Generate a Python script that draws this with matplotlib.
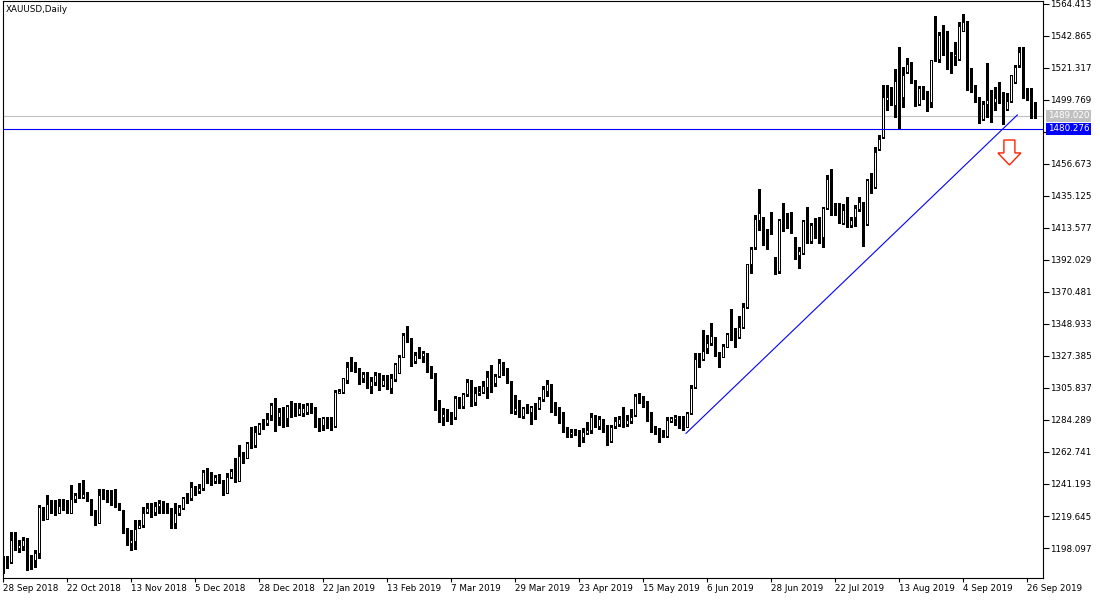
import matplotlib
matplotlib.use('Agg')
import matplotlib.pyplot as plt
from matplotlib.patches import FancyArrow
import matplotlib.transforms as mtransforms

# XAUUSD daily bars, 28 Sep 2018 .. 30 Sep 2019
opens = [
    1191.5, 1192.3, 1188.9, 1203.9, 1197.8, 1199.4, 1204.6, 1190.4, 1190.0, 1194.9,
    1224.1, 1217.4, 1227.7, 1225.5, 1221.9, 1227.5, 1227.0, 1221.9, 1230.8, 1234.9,
    1232.6, 1234.4, 1230.4, 1223.7, 1215.1, 1234.9, 1234.4, 1231.5, 1228.1, 1227.7,
    1223.7, 1211.3, 1201.7, 1203.0, 1211.3, 1213.6, 1222.5, 1224.1, 1222.5, 1226.4,
    1227.7, 1223.7, 1223.2, 1214.7, 1221.4, 1225.3, 1231.5, 1231.5, 1239.8, 1236.7,
    1238.3, 1250.6, 1245.0, 1243.4, 1246.6, 1242.8, 1235.3, 1246.1, 1249.5, 1243.4,
    1260.7, 1258.5, 1272.6, 1267.5, 1275.3, 1280.9, 1282.5, 1287.7, 1294.4, 1286.1,
    1290.6, 1285.4, 1293.7, 1288.3, 1288.3, 1289.2, 1289.9, 1294.4, 1292.8, 1283.8,
    1280.9, 1284.7, 1283.8, 1280.2, 1302.7, 1303.4, 1311.2, 1322.5, 1321.3, 1319.0,
    1312.3, 1316.1, 1307.2, 1310.1, 1314.6, 1307.8, 1311.6, 1305.6, 1311.6, 1316.1,
    1326.5, 1340.8, 1339.3, 1324.2, 1329.6, 1327.4, 1329.6, 1320.6, 1314.6, 1295.0,
    1286.5, 1287.6, 1286.9, 1286.0, 1298.2, 1293.7, 1301.8, 1310.1, 1296.6, 1302.7,
    1303.3, 1306.2, 1313.4, 1309.4, 1313.9, 1322.9, 1316.1, 1310.8, 1290.4, 1292.1,
    1286.9, 1292.8, 1289.9, 1293.3, 1292.1, 1298.2, 1304.0, 1308.5, 1293.7, 1292.1,
    1289.2, 1277.6, 1274.9, 1275.8, 1276.4, 1272.6, 1275.8, 1277.6, 1286.1, 1280.3,
    1283.8, 1277.6, 1270.4, 1280.3, 1281.6, 1284.7, 1281.6, 1283.8, 1287.7, 1301.1,
    1298.2, 1297.3, 1287.0, 1279.4, 1278.0, 1274.9, 1273.5, 1283.8, 1284.7, 1286.1,
    1280.9, 1279.8, 1289.2, 1306.7, 1325.8, 1325.1, 1332.6, 1336.4, 1335.9, 1329.2,
    1326.9, 1333.7, 1343.1, 1342.2, 1340.4, 1346.7, 1360.2, 1389.4, 1400.6, 1419.0,
    1421.2, 1409.6, 1411.1, 1392.1, 1384.9, 1422.3, 1421.2, 1417.2, 1399.9, 1395.4,
    1396.5, 1420.1, 1405.1, 1417.2, 1419.4, 1407.3, 1426.8, 1448.6, 1426.8, 1425.7,
    1417.2, 1425.7, 1415.6, 1421.2, 1426.2, 1431.3, 1416.3, 1446.4, 1441.0, 1466.6,
    1474.5, 1499.5, 1505.4, 1496.4, 1511.5, 1501.6, 1518.9, 1522.7, 1509.9, 1497.1,
    1507.6, 1502.5, 1498.7, 1546.9, 1527.2, 1542.5, 1539.7, 1528.5, 1529.4, 1527.2,
    1546.5, 1552.5, 1519.5, 1505.4, 1499.8, 1486.7, 1497.1, 1499.8, 1498.6, 1500.9,
    1501.5, 1493.5, 1499.3, 1512.1, 1523.3, 1534.5, 1504.2, 1504.2, 1497.1,
]
highs = [
    1192.5, 1193.0, 1209.0, 1209.0, 1203.5, 1205.7, 1205.0, 1193.4, 1196.7, 1227.0,
    1225.9, 1233.8, 1230.4, 1230.4, 1230.8, 1230.8, 1230.4, 1240.5, 1234.9, 1241.6,
    1243.9, 1236.0, 1230.8, 1223.7, 1237.6, 1237.6, 1237.1, 1237.1, 1237.6, 1228.1,
    1223.7, 1211.3, 1210.2, 1216.9, 1216.9, 1225.9, 1228.6, 1228.1, 1229.3, 1230.4,
    1229.9, 1228.1, 1224.8, 1228.1, 1227.0, 1232.6, 1235.3, 1242.8, 1239.8, 1241.2,
    1250.6, 1251.7, 1249.5, 1247.2, 1247.9, 1243.9, 1248.8, 1251.1, 1258.5, 1267.5,
    1263.0, 1269.7, 1279.3, 1280.2, 1282.5, 1284.7, 1288.8, 1295.5, 1298.9, 1292.1,
    1292.8, 1294.4, 1297.3, 1296.0, 1296.0, 1295.1, 1296.0, 1296.0, 1292.8, 1285.4,
    1286.5, 1286.1, 1286.1, 1304.5, 1304.9, 1312.3, 1323.6, 1326.5, 1323.6, 1319.0,
    1316.8, 1316.8, 1313.0, 1316.8, 1315.7, 1314.6, 1314.6, 1315.2, 1322.9, 1328.0,
    1342.6, 1347.6, 1339.3, 1330.3, 1333.2, 1330.9, 1329.6, 1320.6, 1315.7, 1297.7,
    1292.1, 1291.4, 1289.9, 1300.4, 1300.0, 1302.7, 1311.6, 1311.2, 1306.7, 1307.2,
    1310.8, 1317.5, 1321.3, 1315.2, 1325.1, 1323.5, 1319.0, 1310.8, 1301.1, 1297.7,
    1293.2, 1295.0, 1293.7, 1296.0, 1299.6, 1307.2, 1311.2, 1308.5, 1296.6, 1293.3,
    1289.9, 1279.8, 1278.0, 1278.0, 1277.6, 1278.7, 1283.2, 1289.2, 1287.7, 1287.0,
    1284.7, 1280.9, 1280.9, 1286.1, 1287.0, 1292.8, 1287.7, 1291.5, 1301.8, 1302.7,
    1300.5, 1297.3, 1289.9, 1280.3, 1278.7, 1277.6, 1286.1, 1286.1, 1287.7, 1287.0,
    1287.0, 1289.9, 1307.9, 1329.2, 1329.2, 1344.9, 1341.5, 1349.4, 1340.4, 1330.3,
    1335.5, 1343.1, 1358.8, 1346.0, 1354.3, 1362.9, 1389.4, 1400.6, 1422.3, 1439.6,
    1421.2, 1412.7, 1424.6, 1394.3, 1419.4, 1430.2, 1423.5, 1424.6, 1407.8, 1400.6,
    1419.0, 1427.5, 1416.7, 1420.1, 1421.2, 1428.0, 1449.3, 1453.1, 1430.7, 1430.7,
    1429.8, 1434.3, 1420.8, 1429.1, 1434.3, 1431.3, 1446.4, 1450.4, 1468.3, 1476.2,
    1510.0, 1509.9, 1508.3, 1520.4, 1535.3, 1521.8, 1527.8, 1525.6, 1513.3, 1509.2,
    1509.2, 1506.1, 1526.7, 1556.4, 1545.8, 1550.3, 1546.5, 1532.3, 1539.1, 1552.5,
    1557.7, 1553.2, 1521.0, 1509.9, 1501.6, 1499.3, 1524.9, 1506.5, 1508.3, 1512.1,
    1505.4, 1504.2, 1516.6, 1523.3, 1535.7, 1535.7, 1507.6, 1507.6, 1498.6,
]
lows = [
    1181.5, 1184.4, 1188.0, 1196.7, 1195.6, 1196.7, 1183.2, 1183.7, 1185.5, 1191.1,
    1216.9, 1217.4, 1221.9, 1220.3, 1221.4, 1223.7, 1221.4, 1221.9, 1229.3, 1231.5,
    1231.5, 1230.0, 1220.3, 1213.6, 1215.1, 1231.0, 1229.3, 1227.0, 1225.9, 1223.7,
    1208.0, 1200.1, 1196.7, 1197.2, 1211.3, 1212.4, 1221.4, 1219.2, 1220.3, 1221.4,
    1221.4, 1221.4, 1211.3, 1211.3, 1220.3, 1224.2, 1228.5, 1230.4, 1233.8, 1234.9,
    1237.1, 1242.1, 1240.5, 1241.6, 1241.6, 1233.8, 1235.3, 1245.0, 1242.8, 1243.4,
    1255.1, 1258.5, 1265.2, 1265.9, 1274.9, 1278.0, 1280.9, 1284.3, 1277.1, 1280.9,
    1279.8, 1280.2, 1286.1, 1287.0, 1287.7, 1287.0, 1288.3, 1288.8, 1279.8, 1277.1,
    1277.5, 1278.7, 1277.5, 1279.8, 1302.2, 1302.7, 1309.4, 1317.5, 1316.8, 1308.5,
    1310.1, 1305.6, 1302.7, 1307.8, 1304.5, 1307.2, 1304.9, 1302.7, 1310.7, 1316.1,
    1326.5, 1337.0, 1320.6, 1322.9, 1325.8, 1323.5, 1316.8, 1312.3, 1291.0, 1283.1,
    1280.9, 1283.8, 1281.6, 1284.7, 1292.1, 1292.1, 1300.4, 1293.7, 1294.4, 1301.1,
    1302.7, 1298.8, 1303.3, 1307.2, 1313.0, 1314.6, 1308.9, 1288.7, 1288.3, 1286.5,
    1285.4, 1288.7, 1281.6, 1284.7, 1291.5, 1297.3, 1300.5, 1289.9, 1287.7, 1282.5,
    1276.4, 1272.6, 1272.6, 1274.2, 1266.8, 1269.7, 1274.9, 1275.8, 1279.8, 1278.0,
    1276.4, 1267.4, 1269.7, 1278.7, 1280.3, 1279.8, 1280.3, 1282.5, 1287.0, 1296.0,
    1293.3, 1283.8, 1276.4, 1274.9, 1269.7, 1272.6, 1273.1, 1283.2, 1280.9, 1278.7,
    1277.6, 1279.4, 1288.3, 1305.5, 1320.2, 1324.7, 1329.6, 1334.8, 1327.4, 1320.2,
    1326.5, 1333.2, 1338.2, 1333.2, 1339.3, 1346.0, 1359.5, 1383.1, 1399.2, 1412.3,
    1402.2, 1399.2, 1409.6, 1382.6, 1383.5, 1411.8, 1413.4, 1410.5, 1392.5, 1386.4,
    1396.1, 1403.7, 1403.7, 1406.6, 1403.7, 1400.6, 1426.2, 1422.3, 1422.3, 1417.2,
    1416.3, 1414.5, 1414.1, 1415.0, 1425.3, 1401.5, 1415.6, 1437.0, 1440.5, 1466.0,
    1474.0, 1493.1, 1496.4, 1488.6, 1480.3, 1495.3, 1517.7, 1511.0, 1495.7, 1496.4,
    1500.2, 1492.6, 1495.3, 1526.0, 1525.6, 1530.0, 1520.4, 1517.7, 1523.4, 1526.7,
    1546.0, 1506.5, 1505.4, 1498.7, 1484.5, 1486.3, 1488.5, 1485.2, 1493.0, 1498.0,
    1483.6, 1493.0, 1498.6, 1511.4, 1522.2, 1500.9, 1499.8, 1487.4, 1487.4,
]
closes = [
    1184.0, 1189.0, 1203.5, 1197.2, 1200.0, 1203.5, 1188.2, 1189.5, 1194.9, 1225.5,
    1218.0, 1227.7, 1224.8, 1222.5, 1226.4, 1226.4, 1221.9, 1230.8, 1233.8, 1232.6,
    1234.4, 1230.4, 1223.2, 1214.7, 1233.8, 1231.5, 1231.5, 1227.7, 1227.0, 1226.4,
    1210.2, 1201.2, 1203.5, 1210.6, 1213.6, 1221.9, 1224.8, 1221.4, 1226.4, 1228.1,
    1221.9, 1221.9, 1214.7, 1221.9, 1225.5, 1231.5, 1230.8, 1239.4, 1237.6, 1238.3,
    1249.5, 1244.3, 1242.8, 1245.7, 1242.1, 1238.3, 1246.1, 1250.1, 1243.4, 1260.0,
    1255.6, 1268.6, 1266.8, 1276.4, 1281.6, 1280.5, 1284.7, 1294.4, 1284.3, 1289.9,
    1285.4, 1293.7, 1287.0, 1287.4, 1292.1, 1292.1, 1294.4, 1292.1, 1280.9, 1279.8,
    1285.4, 1282.5, 1280.9, 1303.4, 1304.1, 1312.3, 1319.8, 1320.9, 1318.0, 1312.3,
    1315.2, 1306.7, 1310.8, 1314.6, 1307.8, 1311.2, 1305.6, 1312.3, 1322.0, 1326.5,
    1341.5, 1338.6, 1323.5, 1328.0, 1327.4, 1329.6, 1319.7, 1313.4, 1293.7, 1286.5,
    1288.3, 1286.5, 1286.0, 1298.8, 1292.8, 1301.8, 1310.1, 1296.6, 1302.7, 1304.0,
    1307.2, 1313.4, 1309.4, 1313.9, 1322.9, 1315.7, 1310.1, 1289.9, 1292.6, 1286.9,
    1292.1, 1289.9, 1293.3, 1292.1, 1298.2, 1305.0, 1308.5, 1292.8, 1289.9, 1288.3,
    1277.1, 1273.5, 1276.4, 1276.4, 1272.6, 1276.4, 1277.6, 1286.1, 1280.3, 1284.7,
    1277.1, 1270.4, 1279.4, 1283.8, 1284.7, 1280.9, 1284.3, 1286.1, 1300.5, 1297.3,
    1293.7, 1287.0, 1278.0, 1276.4, 1274.9, 1273.5, 1284.3, 1285.4, 1286.1, 1279.8,
    1279.4, 1289.2, 1305.6, 1325.1, 1325.1, 1331.0, 1336.4, 1340.9, 1328.1, 1327.4,
    1334.1, 1342.2, 1340.9, 1339.9, 1346.7, 1360.6, 1389.4, 1399.2, 1419.4, 1423.9,
    1408.9, 1408.2, 1410.0, 1384.2, 1419.0, 1418.5, 1415.6, 1414.1, 1395.4, 1398.3,
    1418.5, 1403.7, 1415.6, 1414.1, 1405.5, 1426.8, 1446.4, 1425.7, 1423.9, 1417.9,
    1425.7, 1414.5, 1419.0, 1426.8, 1431.3, 1412.7, 1445.9, 1441.0, 1465.0, 1473.3,
    1501.8, 1501.8, 1497.1, 1512.8, 1501.6, 1516.6, 1524.0, 1512.1, 1496.4, 1507.6,
    1503.1, 1498.7, 1526.7, 1526.7, 1543.6, 1539.5, 1531.2, 1520.4, 1530.8, 1549.6,
    1552.5, 1518.9, 1506.5, 1499.3, 1485.9, 1497.1, 1499.8, 1486.3, 1500.9, 1498.6,
    1493.0, 1499.3, 1516.6, 1522.2, 1532.3, 1504.2, 1500.9, 1495.3, 1489.02,
]

date_labels = ['28 Sep 2018', '22 Oct 2018', '13 Nov 2018', '5 Dec 2018', '28 Dec 2018',
               '22 Jan 2019', '13 Feb 2019', '7 Mar 2019', '29 Mar 2019', '23 Apr 2019',
               '15 May 2019', '6 Jun 2019', '28 Jun 2019', '22 Jul 2019', '13 Aug 2019',
               '4 Sep 2019', '26 Sep 2019']
price_ticks = [1564.413, 1542.865, 1521.317, 1499.769, 1478.221, 1456.673, 1435.125,
               1413.577, 1392.029, 1370.481, 1348.933, 1327.385, 1305.837, 1284.289,
               1262.741, 1241.193, 1219.645, 1198.097]

bid_price = 1489.020
level_price = 1480.276
trend_bars = [170.75, 253.6]
trend_prices = [1275.3, 1489.7]

FONT = 'DejaVu Sans'
FS = 6.3

fig = plt.figure(figsize=(11, 6), dpi=100)
ax = fig.add_axes([2.5 / 1100, 22 / 600, (1043 - 2.5) / 1100, (599 - 22) / 600])

n = len(closes)
xs = list(range(n))

# wicks
ax.vlines(xs, lows, highs, color='black', linewidth=0.75, zorder=2, antialiased=False)
# bodies
for i in xs:
    o, c = opens[i], closes[i]
    up = c >= o
    ax.bar(i, max(abs(c - o), 0.01), bottom=min(o, c), width=0.5,
           color='white' if up else 'black', edgecolor='black',
           linewidth=0.72, zorder=3, antialiased=False)

# horizontal levels and trend line
ax.axhline(bid_price, color='#c0c0c0', linewidth=0.8, zorder=1)
ax.axhline(level_price, color='#0000ff', linewidth=0.8, zorder=4)
ax.plot(trend_bars, trend_prices, color='#0000ff', linewidth=0.8, zorder=4)

# sell arrow
ax.add_patch(FancyArrow(251.6, 1472.8, 0, -16.8, width=2.75, head_width=5.75,
                        head_length=8.1, length_includes_head=True,
                        facecolor='white', edgecolor='#ff2000', linewidth=1.0, zorder=5))

ax.set_xlim(-0.125, 260)
ax.set_ylim(1177.9, 1566.4)

ax.set_xticks(range(0, 16 * len(date_labels), 16))
ax.set_xticklabels(date_labels, ha='left', fontsize=FS, family=FONT)
ax.tick_params(axis='x', direction='out', length=3, width=0.8, pad=1)

ax.yaxis.tick_right()
ax.set_yticks(price_ticks)
ax.set_yticklabels(['%.3f' % v for v in price_ticks], fontsize=FS, family=FONT)
ax.tick_params(axis='y', direction='out', length=4, width=0.8, pad=1)

for s in ax.spines.values():
    s.set_linewidth(0.8)

ax.text(0.003, 0.993, 'XAUUSD,Daily', transform=ax.transAxes, va='top', ha='left',
        fontsize=FS, family=FONT)

trans = mtransforms.blended_transform_factory(ax.transAxes, ax.transData)
ax.text(1.0045, bid_price, '%.3f' % bid_price, transform=trans, va='center', ha='left',
        color='white', fontsize=FS, family=FONT, zorder=10, clip_on=False,
        bbox=dict(boxstyle='square,pad=0.2', fc='#c0c0c0', ec='none'))
ax.text(1.0045, level_price, '%.3f' % level_price, transform=trans, va='center', ha='left',
        color='white', fontsize=FS, family=FONT, zorder=10, clip_on=False,
        bbox=dict(boxstyle='square,pad=0.2', fc='#0000ff', ec='none'))

fig.savefig('out.png', dpi=100)
